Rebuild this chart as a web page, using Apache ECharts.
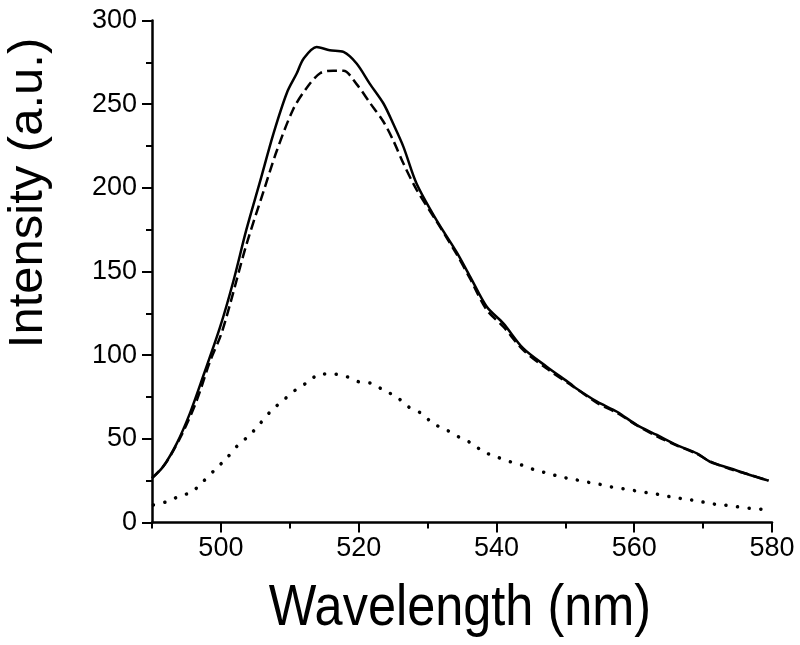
<!DOCTYPE html>
<html>
<head>
<meta charset="utf-8">
<script src="https://cdn.jsdelivr.net/npm/echarts@6/dist/echarts.min.js"></script>
<style>
html,body{margin:0;padding:0;background:#fff;}
#chart{width:800px;height:645px;}
</style>
</head>
<body>
<div id="chart"></div>
<script>
// Solid curve
const solidWavelength = [490, 491.6, 493.6, 495.5, 497.4, 499.9, 501.8, 503.7, 505.7, 507.6, 509.6, 511, 512, 513.9, 515.8, 517.8, 519.7, 521.6, 523.6, 525, 526.5, 528.4, 531.3, 534.2, 536.2, 538.6, 541, 543.9, 547.3, 550.7, 551.6, 554.6, 557.5, 560.4, 563.3, 566.2, 569.1, 571, 573.9, 576.8, 579.5];
const solidIntensity  = [26.5, 33.3, 47.3, 65.2, 87.1, 117, 144, 175, 204, 232, 257, 268.3, 277.2, 284.2, 282.2, 281.2, 274.3, 262.3, 250.4, 238.4, 224.5, 202.6, 180.7, 161.7, 146.8, 128.9, 119, 104, 93.1, 83, 80.1, 72.2, 66.2, 58.2, 52.3, 46.3, 41.3, 36.3, 32.4, 28.4, 25];
// Dashed curve
const dashedWavelength = [490, 492, 494.5, 496.5, 498.4, 500, 501.3, 503.7, 506.2, 508.1, 510.5, 512.5, 514.4, 516.3, 517.8, 519.7, 521.6, 523.6, 525, 526.5, 528.4, 531.3, 534.2, 536.2, 538.6, 541, 543.9, 547.3, 550.7, 554.6, 557.5, 560.4, 563.3, 566.2, 569.1, 571, 573.9, 576.8, 579.5];
const dashedIntensity  = [26.5, 35.5, 54, 73, 96, 112, 130, 166, 198, 222, 247, 260, 268.5, 270, 270, 262, 251, 239.5, 228.5, 214.5, 199, 180, 160.5, 145.5, 127, 117, 103, 92, 82.5, 71.5, 65.5, 58, 51.5, 46, 41, 36.5, 32, 28.5, 25];
// Dotted curve
const dottedWavelength = [490.2, 492.1, 493.8, 495.8, 497.4, 499.1, 500.8, 502.5, 504.2, 505.7, 507.4, 509.1, 510.8, 512.7, 514.4, 516.3, 518.3, 520, 521.9, 523.6, 525.5, 527.2, 529.1, 530.8, 532.8, 534.5, 536.4, 538.1, 540, 542, 543.7, 545.6, 547.5, 549.2, 551.2, 553.1, 554.8, 556.5, 558.4, 560.1, 562, 563.7, 565.7, 567.6, 569.3, 571.2, 572.9, 574.9, 576.8, 578.5];
const dottedIntensity  = [10.5, 12.4, 15.4, 18.4, 24.4, 31.4, 38.3, 46.3, 52.3, 59.2, 67.2, 73.2, 79.1, 84.1, 88.7, 88.7, 87.1, 84.1, 83.1, 79.1, 75.1, 69.2, 65.2, 59.2, 55.2, 51.2, 47.3, 42.3, 39.3, 36.3, 34.3, 31.4, 29.4, 27.4, 25.8, 24.2, 23, 21.4, 20.2, 19, 17.8, 16.6, 15, 13.9, 12.8, 11.2, 10.5, 9.4, 8.5, 7.9];
// Axis ticks
const xMajorTicks = [500, 520, 540, 560, 580];
const xMinorTicks = [490, 510, 530, 550, 570];
const yTicks = [0, 50, 100, 150, 200, 250, 300];
const xTitle = 'Wavelength (nm)';
const yTitle = 'Intensity (a.u.)';

const zip = (xs, ys) => xs.map((x, i) => [x, ys[i]]);
const FONT = "'Liberation Sans', Arial, sans-serif";

const chart = echarts.init(document.getElementById('chart'), null, {renderer: 'canvas'});
chart.setOption({
  backgroundColor: '#ffffff',
  animation: false,
  grid: {left: 152, right: 28, top: 20.5, bottom: 122.5, containLabel: false},
  xAxis: [{
    type: 'value', min: 490, max: 580,
    axisLine: {show: true, onZero: false, lineStyle: {color: '#000', width: 2.5}},
    axisTick: {show: true, inside: false, length: 10, customValues: xMajorTicks, lineStyle: {color: '#000', width: 2}},
    axisLabel: {show: true, customValues: xMajorTicks, fontFamily: FONT, fontSize: 27, color: '#000', margin: 13},
    splitLine: {show: false}
  }, {
    type: 'value', min: 490, max: 580, position: 'bottom',
    axisLine: {show: false},
    axisTick: {show: true, inside: false, length: 6, customValues: xMinorTicks, lineStyle: {color: '#000', width: 2}},
    axisLabel: {show: false},
    splitLine: {show: false}
  }],
  yAxis: {
    type: 'value', min: yTicks[0], max: yTicks[yTicks.length - 1], interval: 50,
    axisLine: {show: true, onZero: false, lineStyle: {color: '#000', width: 2.5}},
    axisTick: {show: true, inside: false, length: 10, lineStyle: {color: '#000', width: 2}},
    minorTick: {show: true, splitNumber: 2, length: 6, lineStyle: {color: '#000', width: 2}},
    axisLabel: {fontFamily: FONT, fontSize: 27, color: '#000', margin: 15},
    splitLine: {show: false}
  },
  graphic: [{
    type: 'text', x: 28, y: 193, rotation: Math.PI / 2,
    style: {text: yTitle, fill: '#000', font: "49px 'Liberation Sans', Arial, sans-serif", align: 'center', verticalAlign: 'middle'}
  }, {
    type: 'text', x: 460, y: 580, scaleX: 0.87,
    style: {text: xTitle, fill: '#000', font: "58px 'Liberation Sans', Arial, sans-serif", align: 'center', verticalAlign: 'top'}
  }],
  series: [{
    name: 'solid', type: 'line', showSymbol: false, smooth: 0.3,
    data: zip(solidWavelength, solidIntensity),
    lineStyle: {color: '#000', width: 2.5, type: 'solid'}, z: 3
  }, {
    name: 'dashed', type: 'line', showSymbol: false, smooth: 0.3,
    data: zip(dashedWavelength, dashedIntensity),
    lineStyle: {color: '#000', width: 2.5, type: [10, 5]}, z: 2
  }, {
    name: 'dotted', type: 'line', showSymbol: false, smooth: 0.3,
    data: zip(dottedWavelength, dottedIntensity),
    lineStyle: {color: '#000', width: 3.5, type: [0.1, 11.5], cap: 'round'}, z: 2
  }]
});
</script>
</body>
</html>
